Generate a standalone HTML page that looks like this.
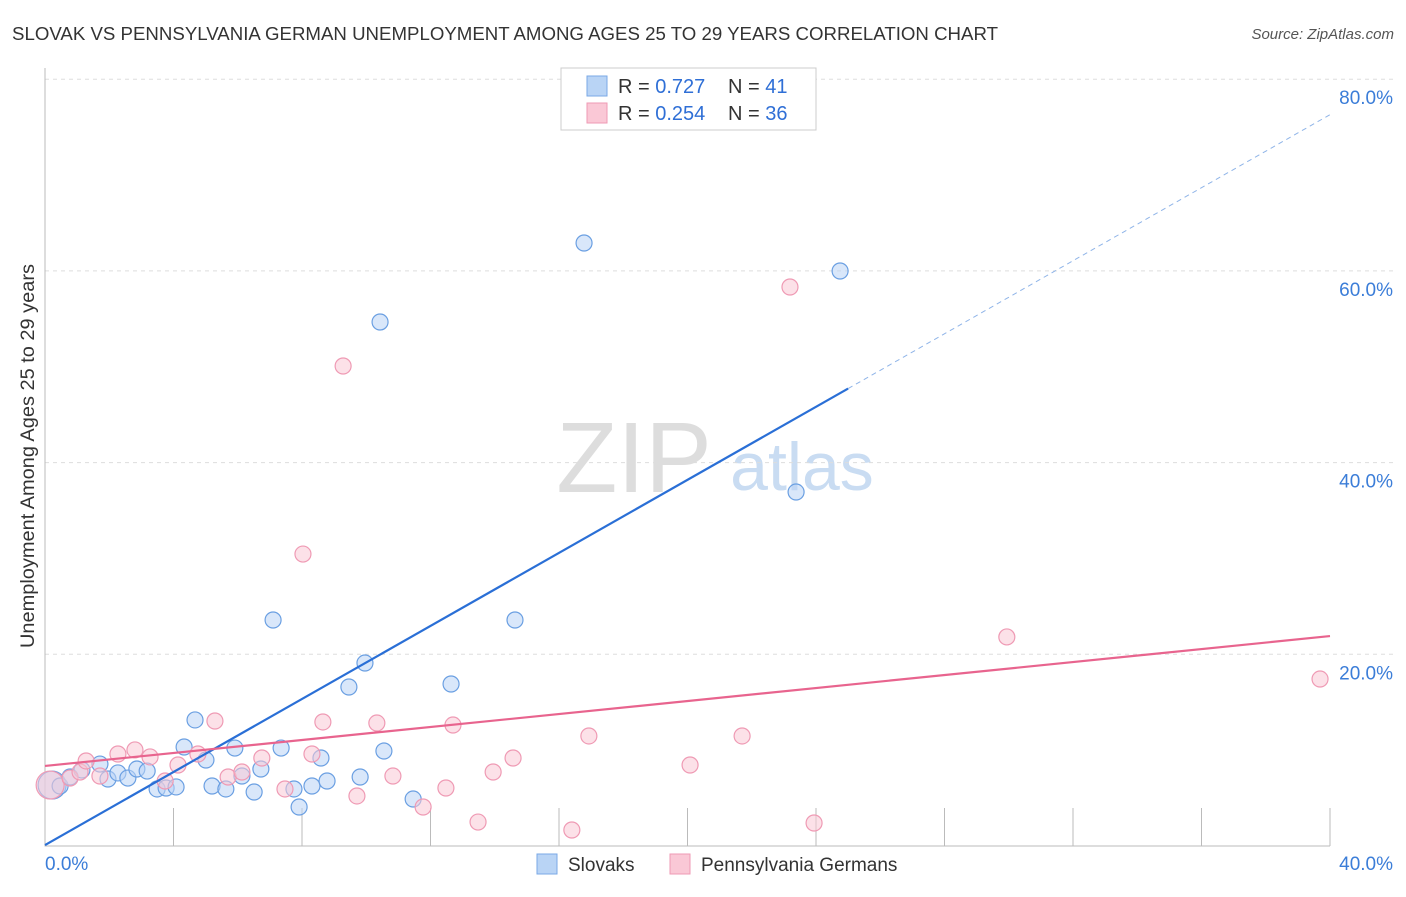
<!DOCTYPE html>
<html><head><meta charset="utf-8"><style>
body{margin:0;background:#fff;font-family:"Liberation Sans",sans-serif;}
svg text{font-family:"Liberation Sans",sans-serif;}
</style></head><body>
<svg id="c" width="1406" height="892">
<text x="12" y="40" font-size="18" fill="#333" textLength="986" lengthAdjust="spacingAndGlyphs">SLOVAK VS PENNSYLVANIA GERMAN UNEMPLOYMENT AMONG AGES 25 TO 29 YEARS CORRELATION CHART</text>
<text x="1394" y="39" font-size="15" fill="#555" font-style="italic" text-anchor="end">Source: ZipAtlas.com</text>
<text x="634" y="492" font-size="100" fill="#ddd" font-family="Liberation Serif,serif" text-anchor="middle">ZIP</text>
<text x="802" y="490" font-size="68" fill="#c9dcf2" text-anchor="middle">atlas</text>
<text transform="translate(34,456) rotate(-90)" font-size="19" fill="#333" text-anchor="middle" textLength="384" lengthAdjust="spacingAndGlyphs">Unemployment Among Ages 25 to 29 years</text>
<g id="grid"></g><g id="marks"></g>
<g>
<rect x="561" y="68" width="255" height="62" fill="#fff" stroke="#ccc"/>
<rect x="587" y="76" width="20" height="20" fill="#b9d4f5" stroke="#7aa8e6"/>
<rect x="587" y="103" width="20" height="20" fill="#fac8d6" stroke="#ef9ab4"/>
<text x="618" y="93" font-size="20" fill="#333">R = <tspan fill="#2f6fd6">0.727</tspan><tspan x="728">N = </tspan><tspan fill="#2f6fd6">41</tspan></text>
<text x="618" y="120" font-size="20" fill="#333">R = <tspan fill="#2f6fd6">0.254</tspan><tspan x="728">N = </tspan><tspan fill="#2f6fd6">36</tspan></text>
</g>
<g>
<rect x="537" y="854" width="20" height="20" fill="#b9d4f5" stroke="#7aa8e6"/>
<text x="568" y="871" font-size="19" fill="#333">Slovaks</text>
<rect x="670" y="854" width="20" height="20" fill="#fac8d6" stroke="#ef9ab4"/>
<text x="701" y="871" font-size="19" fill="#333">Pennsylvania Germans</text>
</g>
</svg>
<script>
const blueX=[0.22,0.47,0.78,1.15,1.71,1.96,2.27,2.58,2.86,3.18,3.49,3.77,4.08,4.33,4.67,5.01,5.20,5.63,5.91,6.13,6.51,6.72,7.35,7.75,7.91,8.31,8.59,8.78,9.46,9.81,9.96,10.55,10.43,11.46,12.64,14.63,7.10,16.78,23.38,24.75];
const blueY=[6.36,6.26,7.2,7.93,8.55,6.99,7.62,7.09,8.03,7.82,5.95,6.05,6.16,10.33,13.15,8.97,6.26,5.95,10.22,7.30,5.63,8.03,10.22,5.95,4.07,6.26,9.18,6.78,16.59,7.2,19.09,9.91,54.67,4.9,16.9,23.58,23.58,62.91,36.93,59.99];
const pinkX=[0.16,0.78,1.09,1.28,1.71,2.27,2.80,3.27,3.74,4.14,4.76,5.29,5.70,6.13,6.75,7.47,8.03,8.31,8.65,9.28,9.71,10.33,10.83,11.77,12.48,12.70,13.48,13.95,14.57,16.40,16.93,20.08,21.70,23.19,23.94,29.94,39.69];
const pinkY=[6.36,7.09,7.72,8.87,7.30,9.60,10.02,9.29,6.78,8.45,9.60,13.04,7.2,7.72,9.18,5.95,30.46,9.60,12.94,50.08,5.22,12.83,7.30,4.07,6.05,12.62,2.50,7.72,9.18,1.67,11.48,8.45,11.48,58.32,2.40,21.81,17.42];
const blueTrend=[0.1,76.3], blueSolidEnd=25.0;
const pinkTrend=[8.35,21.9];
const yTicks=[20,40,60,80];
const xLabels=["0.0%","40.0%"];
const NS="http://www.w3.org/2000/svg";
const sx=v=>45+v/40*1285, sy=v=>846-v/20*191.7;
function mk(t,a,p){const e=document.createElementNS(NS,t);for(const k in a)e.setAttribute(k,a[k]);p.appendChild(e);return e;}
const g=document.getElementById('grid'), m=document.getElementById('marks');
yTicks.forEach(t=>{
 const l=mk('line',{x1:45,x2:1395,y1:sy(t),y2:sy(t),stroke:'#ddd','stroke-dasharray':'4,4'},g);
 
 
 const tx=mk('text',{x:1393,y:sy(t)+25,'font-size':19,fill:'#3b7dd8','text-anchor':'end'},g);tx.textContent=t.toFixed(1)+'%';
 
 
});
const ax=mk('path',{d:'M45,68V846H1330',stroke:'#bbb',fill:'none'},g);


for(let i=1;i<=10;i++){const t=mk('line',{x1:sx(i*4),x2:sx(i*4),y1:808,y2:846,stroke:'#bbb'},g);
 
 }
[[0,'start',45],[40,'end',1393]].forEach((d,i)=>{const t=mk('text',{x:d[2],y:870,'font-size':19,fill:'#3b7dd8','text-anchor':d[1]},g);t.textContent=xLabels[i];
 
 });
function dots(X,Y,fill,stroke,name){X.forEach((x,i)=>{const r=i==0?14:8;
 const c=mk('circle',{cx:sx(x),cy:sy(Y[i]),r:r,fill:fill,'fill-opacity':0.55,stroke:stroke,'stroke-width':1.2},m);
 
 });}
dots(blueX,blueY,'#b9d4f5','#6a9fe2','slovak-point');
dots(pinkX,pinkY,'#fac8d6','#ef9ab4','pa-german-point');
const by=x=>blueTrend[0]+(blueTrend[1]-blueTrend[0])*x/40;
let l=mk('line',{x1:sx(0),y1:sy(by(0)),x2:sx(blueSolidEnd),y2:sy(by(blueSolidEnd)),stroke:'#2a6fd6','stroke-width':2.2},m);


l=mk('line',{x1:sx(blueSolidEnd),y1:sy(by(blueSolidEnd)),x2:sx(40),y2:sy(by(40)),stroke:'#8fb4e8','stroke-width':1,'stroke-dasharray':'5,4'},m);


l=mk('line',{x1:sx(0),y1:sy(pinkTrend[0]),x2:sx(40),y2:sy(pinkTrend[1]),stroke:'#e8648e','stroke-width':2.2},m);


</script>
</body></html>
